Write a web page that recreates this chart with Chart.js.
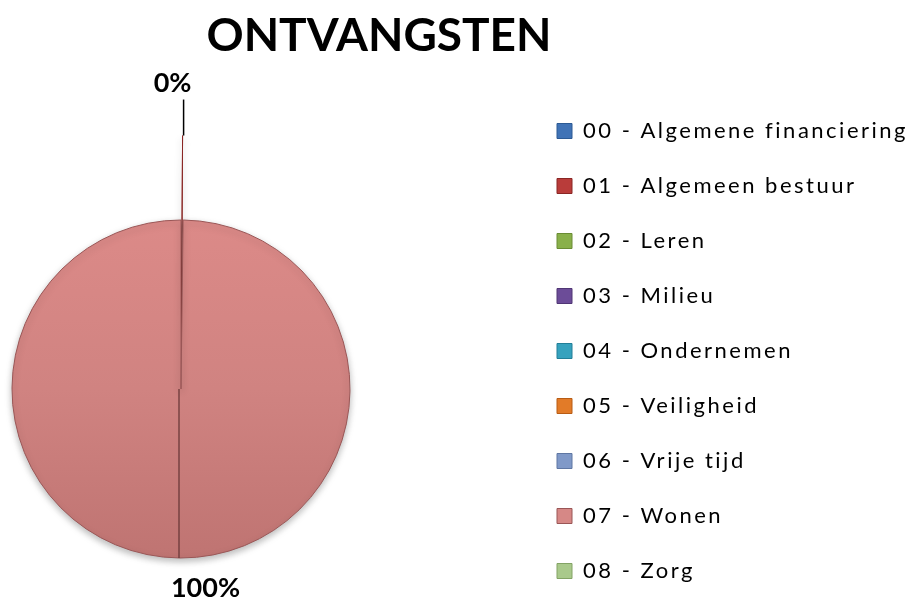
<!DOCTYPE html>
<html>
<head>
<meta charset="utf-8">
<script src="https://cdn.jsdelivr.net/npm/chart.js@4.4.1/dist/chart.umd.min.js"></script>
<style>
  html, body { margin: 0; padding: 0; background: #fff; }
  #wrap { width: 918px; height: 599px; position: relative; }
</style>
</head>
<body>
<div id="wrap"><canvas id="pieChart"></canvas></div>
<script>
// Gegevens van de grafiek
const titel = 'ONTVANGSTEN';
const categorieen = [
    '00 - Algemene financiering',
    '01 - Algemeen bestuur',
    '02 - Leren',
    '03 - Milieu',
    '04 - Ondernemen',
    '05 - Veiligheid',
    '06 - Vrije tijd',
    '07 - Wonen',
    '08 - Zorg'
];
const aandeel = [0, 0.2, 0, 0, 0, 0, 0, 99.8, 0]; // in procent
const kleuren = ['#4073b6', '#b93c3a', '#89b04a', '#6c4c98', '#36a2be', '#e27b28', '#8099c8', '#d68886', '#a9c98b'];
const randKleuren = ['#2c5a94', '#8a2624', '#6a8c34', '#503675', '#227f98', '#b85c14', '#5f77a3', '#9a5656', '#83a365'];
const uitgetrokken = [0, 170, 0, 0, 0, 0, 0, 0, 0];

// Plaats van de taart (middelpunt + straal) in het canvas
const taartX = 181;
const taartY = 389;
const straal = 169;

// Verloop voor de grote schijf (licht boven, donkerder onder)
function vulling(ctx) {
    const i = ctx.dataIndex;
    if (i !== 7) return kleuren[i];
    const g = ctx.chart.ctx.createLinearGradient(0, taartY - straal, 0, taartY + straal);
    g.addColorStop(0, '#dc8a88');
    g.addColorStop(0.5, '#d08381');
    g.addColorStop(1, '#bf7472');
    return g;
}

// Taart links houden, legenda rechts laten staan
const taartVak = {
    id: 'taartVak',
    afterLayout(chart) {
        const a = chart.chartArea;
        a.left = taartX - straal;
        a.right = taartX + straal;
        a.top = taartY - straal;
        a.bottom = taartY + straal;
        a.width = a.right - a.left;
        a.height = a.bottom - a.top;
    }
};

// Legendatekst iets ruimer spatiëren (zoals in het origineel)
const spatiering = {
    id: 'spatiering',
    afterInit(chart) {
        const lg = chart.legend;
        ['fit', 'draw'].forEach(naam => {
            const orig = lg[naam].bind(lg);
            lg[naam] = function (...args) {
                const c = chart.ctx;
                const oud = c.letterSpacing;
                c.letterSpacing = '2.5px';
                orig(...args);
                c.letterSpacing = oud;
            };
        });
    }
};

// Schaduw onder de taart, daarna percentages + verbindingslijn
const labelPlugin = {
    id: 'labelPlugin',
    beforeDatasetsDraw(chart) {
        const ctx = chart.ctx;
        ctx.save();
        ctx.shadowColor = 'rgba(0, 0, 0, 0.28)';
        ctx.shadowBlur = 7;
        ctx.shadowOffsetY = 3;
    },
    afterDatasetsDraw(chart) {
        const ctx = chart.ctx;
        ctx.restore();
        const meta = chart.getDatasetMeta(0);
        const totaal = aandeel.reduce((a, b) => a + b, 0);
        ctx.save();

        // naad door het midden van de taart
        const grote = meta.data[7];
        ctx.strokeStyle = 'rgba(105, 55, 55, 0.85)';
        ctx.lineWidth = 1.5;
        ctx.beginPath();
        ctx.moveTo(grote.x - 2, grote.y);
        ctx.lineTo(grote.x - 2, grote.y + grote.outerRadius);
        ctx.stroke();

        ctx.font = 'bold 27px Lato';
        ctx.fillStyle = '#000';
        ctx.textBaseline = 'middle';
        meta.data.forEach((arc, i) => {
            if (!aandeel[i]) return;
            const pct = Math.round(aandeel[i] / totaal * 100) + '%';
            const mid = (arc.startAngle + arc.endAngle) / 2;
            const fix = 1 - Math.sin(Math.min(Math.PI, arc.circumference));
            const shift = (uitgetrokken[i] / 4) * (1 + fix);
            const r = arc.outerRadius + shift;
            const px = arc.x + Math.cos(mid) * r;
            const py = arc.y + Math.sin(mid) * r;
            if (Math.sin(mid) < 0) {
                // label boven, met lijntje
                ctx.strokeStyle = '#000';
                ctx.lineWidth = 1.5;
                ctx.beginPath();
                ctx.moveTo(px + 1, py);
                ctx.lineTo(px + 1, py - 36);
                ctx.stroke();
                ctx.textAlign = 'center';
                ctx.fillText(pct, px - 10, py - 52);
            } else {
                ctx.textAlign = 'left';
                ctx.fillText(pct, px - 9, py + 30);
            }
        });
        ctx.restore();
    }
};

const chart = new Chart(document.getElementById('pieChart'), {
    type: 'pie',
    data: {
        labels: categorieen,
        datasets: [{
            data: aandeel,
            backgroundColor: vulling,
            borderColor: randKleuren,
            borderWidth: 1,
            offset: uitgetrokken
        }]
    },
    options: {
        responsive: true,
        maintainAspectRatio: false,
        animation: false,
        radius: straal,
        layout: {
            padding: { left: -160, right: 0, top: 0, bottom: -103 }
        },
        plugins: {
            title: {
                display: true,
                text: titel,
                color: '#000',
                font: { family: 'Lato', size: 46, weight: 'bold' },
                padding: { top: 9, bottom: 22 }
            },
            legend: {
                position: 'right',
                align: 'center',
                labels: {
                    color: '#000',
                    font: { family: 'Lato', size: 22 },
                    boxWidth: 15,
                    boxHeight: 15,
                    padding: 33,
                    generateLabels(c) {
                        return categorieen.map((naam, i) => ({
                            text: naam,
                            fillStyle: kleuren[i],
                            strokeStyle: randKleuren[i],
                            lineWidth: 1,
                            hidden: false,
                            index: i
                        }));
                    }
                }
            },
            tooltip: { enabled: false }
        }
    },
    plugins: [taartVak, spatiering, labelPlugin]
});
</script>
</body>
</html>
